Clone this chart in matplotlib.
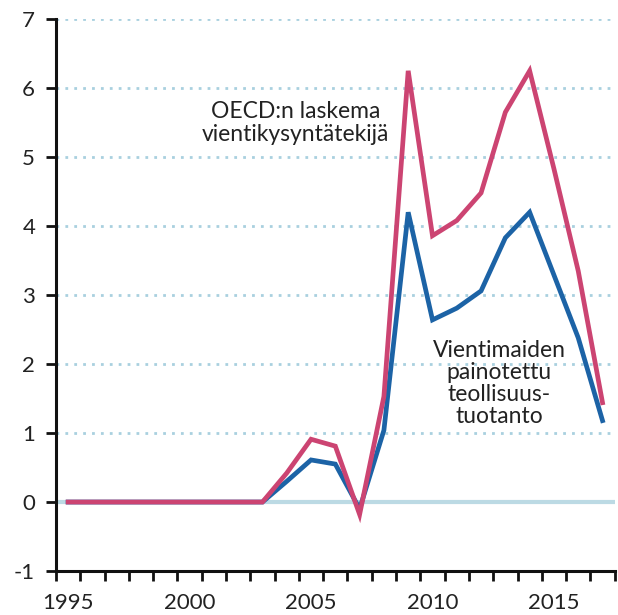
import matplotlib
matplotlib.use("Agg")
import matplotlib.pyplot as plt
import numpy as np

years = list(range(1995, 2018))
oecd = [0, 0, 0, 0, 0, 0, 0, 0, 0, 0.42, 0.91, 0.81, -0.18, 1.53,
        6.25, 3.86, 4.08, 4.48, 5.65, 6.25, 4.83, 3.35, 1.44]
industry = [0, 0, 0, 0, 0, 0, 0, 0, 0, 0.30, 0.61, 0.55, -0.10, 1.04,
            4.20, 2.64, 2.81, 3.06, 3.83, 4.20, 3.29, 2.38, 1.18]
label_years = [1995, 2000, 2005, 2010, 2015]
y_ticks = [-1, 0, 1, 2, 3, 4, 5, 6, 7]

plt.rcParams['font.family'] = ['Lato', 'DejaVu Sans']

fig = plt.figure(figsize=(6.18, 6.15), dpi=100)
ax = fig.add_axes([0.0906, 0.0715, 0.904, 0.8975])

grid_c = '#a9d0df'
for y in y_ticks:
    if y > 0:
        ax.axhline(y, color=grid_c, lw=2.0, ls=(0, (1, 2.2)), zorder=1)
ax.axhline(0, color='#bcdae4', lw=3, zorder=1)

ax.plot(years, industry, color='#1c63a6', lw=3.4, zorder=3, solid_joinstyle='miter')
ax.plot(years, oecd, color='#cc4472', lw=3.4, zorder=4, solid_joinstyle='miter')

ax.set_xlim(1994.5, 2017.5)
ax.set_ylim(-1, 7)
ax.set_yticks(y_ticks)
ax.set_yticklabels([str(v) for v in y_ticks])
ax.set_xticks(np.arange(1994.5, 2018.0, 1.0))
ax.set_xticklabels([])
ax.set_xticks(label_years, minor=True)
ax.set_xticklabels([str(v) for v in label_years], minor=True)
ax.tick_params(axis='x', which='major', length=7, width=2, direction='out', color='#111')
ax.tick_params(axis='x', which='minor', length=0, pad=16, labelsize=16, labelcolor='#222')
ax.tick_params(axis='y', length=7, width=2, direction='out', color='#111', labelsize=16,
               labelcolor='#222', pad=8)

for s in ['top', 'right']:
    ax.spines[s].set_visible(False)
for s in ['left', 'bottom']:
    ax.spines[s].set_linewidth(2.2)
    ax.spines[s].set_color('#111')

ax.text(2004.37, 5.5, 'OECD:n laskema\nvientikysyntätekijä', ha='center', va='center',
        fontsize=16.5, color='#222', linespacing=1.12)
ax.text(2012.74, 1.72, 'Vientimaiden\npainotettu\nteollisuus-\ntuotanto', ha='center', va='center',
        fontsize=16.5, color='#222', linespacing=1.07)

fig.savefig('out.png', dpi=100)
